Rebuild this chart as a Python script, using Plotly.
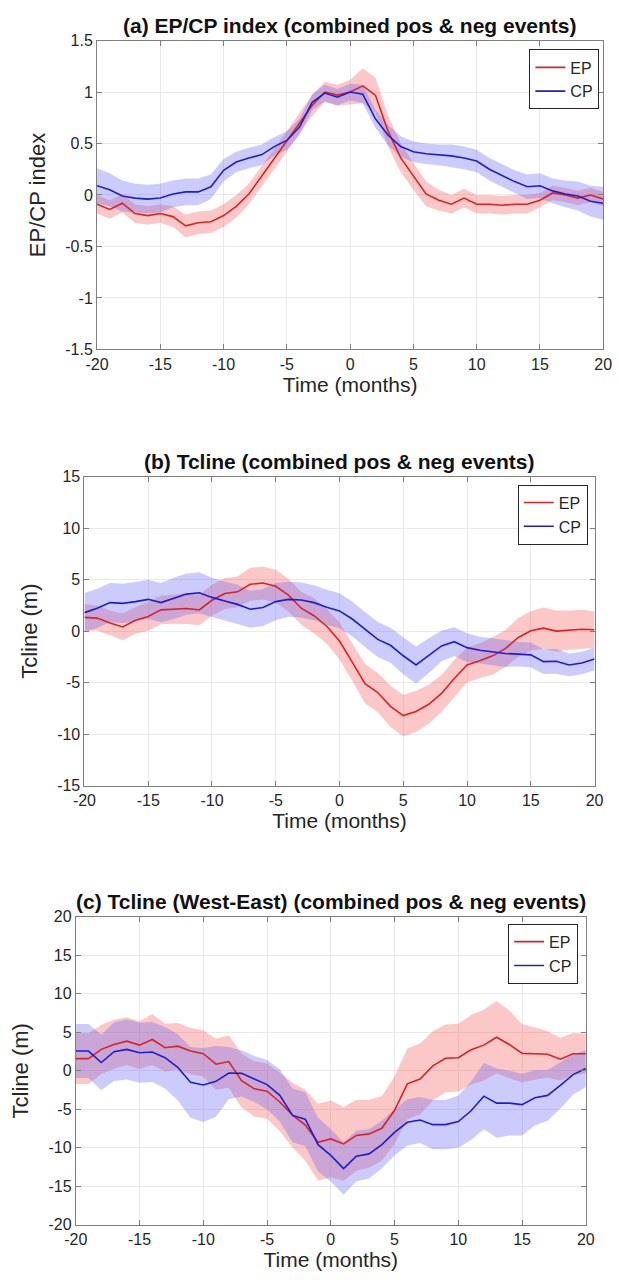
import plotly.graph_objects as go

months = list(range(-20, 21))
x_tickvals = [-20, -15, -10, -5, 0, 5, 10, 15, 20]
x_ticktext = ["-20", "-15", "-10", "-5", "0", "5", "10", "15", "20"]

# ---------- panel (a) EP/CP index ----------
a_ep = [-0.09, -0.14, -0.08, -0.18, -0.20, -0.18, -0.21, -0.30, -0.27, -0.26,
        -0.20, -0.11, 0.01, 0.18, 0.35, 0.52, 0.70, 0.87, 1.00, 0.97,
        1.00, 1.06, 0.97, 0.62, 0.36, 0.18, 0.01, -0.05, -0.09, -0.03,
        -0.09, -0.09, -0.10, -0.09, -0.09, -0.05, 0.02, 0.00, -0.03, 0.00, -0.04]
a_ep_err = [0.09, 0.09, 0.09, 0.09, 0.09, 0.09, 0.10, 0.11, 0.11, 0.11,
            0.11, 0.11, 0.10, 0.10, 0.10, 0.10, 0.10, 0.10, 0.10, 0.10,
            0.12, 0.17, 0.17, 0.15, 0.14, 0.13, 0.12, 0.10, 0.09, 0.09,
            0.09, 0.09, 0.09, 0.09, 0.09, 0.07, 0.07, 0.07, 0.07, 0.07, 0.07]
a_cp = [0.09, 0.05, -0.01, -0.03, -0.04, -0.03, 0.01, 0.03, 0.03, 0.08,
        0.24, 0.32, 0.36, 0.39, 0.47, 0.53, 0.66, 0.90, 0.99, 0.95,
        1.00, 0.98, 0.74, 0.58, 0.47, 0.42, 0.40, 0.39, 0.38, 0.36,
        0.33, 0.25, 0.19, 0.13, 0.08, 0.09, 0.04, 0.01, -0.01, -0.06, -0.08]
a_cp_err = [0.17, 0.16, 0.15, 0.14, 0.14, 0.14, 0.13, 0.13, 0.13, 0.12,
            0.11, 0.10, 0.10, 0.10, 0.09, 0.09, 0.08, 0.08, 0.08, 0.08,
            0.08, 0.09, 0.09, 0.10, 0.10, 0.10, 0.10, 0.10, 0.11, 0.11,
            0.11, 0.11, 0.11, 0.11, 0.12, 0.12, 0.12, 0.13, 0.14, 0.15, 0.16]
a_tickvals = [-1.5, -1, -0.5, 0, 0.5, 1, 1.5]
a_ticktext = ["-1.5", "-1", "-0.5", "0", "0.5", "1", "1.5"]

# ---------- panel (b) Tcline ----------
b_ep = [1.34, 1.27, 0.80, 0.41, 1.05, 1.43, 2.07, 2.13, 2.20, 2.07,
        3.00, 3.66, 3.82, 4.55, 4.68, 4.36, 3.50, 2.23, 1.50, 0.48,
        -0.96, -3.00, -5.10, -5.96, -7.30, -8.20, -7.80, -7.10, -6.05, -4.60,
        -3.28, -2.87, -2.40, -1.70, -0.64, 0.03, 0.29, 0.00, 0.10, 0.19, 0.13]
b_ep_err = [1.3, 1.2, 1.2, 1.3, 1.3, 1.4, 1.4, 1.4, 1.5, 1.5,
            1.5, 1.5, 1.5, 1.6, 1.6, 1.6, 1.6, 1.6, 1.7, 1.7,
            1.8, 1.8, 1.9, 1.9, 2.0, 2.0, 2.0, 1.9, 1.8, 1.8,
            1.7, 1.7, 1.8, 1.8, 1.9, 1.9, 2.0, 2.0, 1.9, 1.9, 1.8]
b_cp = [1.80, 2.23, 2.77, 2.70, 2.87, 3.09, 2.77, 3.18, 3.60, 3.73,
        3.28, 2.93, 2.60, 2.13, 2.30, 2.87, 3.09, 3.03, 2.77, 2.32,
        1.97, 1.18, 0.16, -0.80, -1.37, -2.39, -3.28, -2.39, -1.43, -1.02,
        -1.60, -1.85, -2.00, -2.17, -2.23, -2.30, -2.96, -2.93, -3.28, -3.09, -2.70]
b_cp_err = [1.9, 1.9, 1.9, 1.9, 1.9, 1.9, 1.9, 2.0, 2.0, 2.0,
            1.9, 1.9, 1.9, 1.8, 1.8, 1.8, 1.7, 1.7, 1.7, 1.7,
            1.7, 1.7, 1.7, 1.7, 1.7, 1.8, 1.8, 1.7, 1.5, 1.4,
            1.4, 1.3, 1.3, 1.3, 1.2, 1.2, 1.2, 1.2, 1.1, 1.1, 1.1]
b_tickvals = [-15, -10, -5, 0, 5, 10, 15]
b_ticktext = ["-15", "-10", "-5", "0", "5", "10", "15"]

# ---------- panel (c) Tcline West-East ----------
c_ep = [1.58, 1.58, 2.78, 3.42, 3.85, 3.33, 4.06, 3.00, 3.20, 2.56,
        2.22, 0.85, 1.20, -1.28, -2.35, -2.65, -4.06, -5.77, -7.05, -9.30,
        -8.85, -9.50, -8.40, -8.20, -7.48, -5.13, -1.70, -1.07, 0.64, 1.62,
        1.70, 2.73, 3.33, 4.36, 3.42, 2.26, 2.22, 2.14, 1.50, 2.22, 2.22]
c_ep_err = [3.3, 3.3, 3.2, 3.2, 3.1, 3.1, 3.3, 3.1, 3.0, 3.0,
            3.0, 3.3, 3.4, 3.5, 3.6, 3.6, 3.8, 4.2, 4.6, 5.0,
            5.0, 4.8, 4.6, 4.4, 4.2, 4.4, 4.6, 4.6, 4.5, 4.4,
            4.4, 4.5, 4.6, 4.7, 4.4, 3.8, 3.4, 3.0, 2.8, 2.7, 2.6]
c_cp = [2.56, 2.56, 1.07, 2.48, 2.78, 2.35, 2.44, 1.70, 0.43, -1.50,
        -1.84, -1.37, -0.30, -0.34, -1.07, -1.80, -3.20, -5.80, -6.30, -9.60,
        -11.00, -12.70, -11.10, -10.80, -9.60, -8.00, -6.70, -6.40, -7.00, -7.00,
        -6.60, -5.20, -3.30, -4.20, -4.20, -4.40, -3.50, -3.20, -1.90, -0.50, 0.30]
c_cp_err = [3.5, 3.5, 3.6, 3.8, 3.9, 3.9, 3.9, 4.0, 4.3, 4.6,
            4.8, 4.6, 3.4, 3.0, 3.0, 3.2, 3.4, 3.5, 3.5, 3.5,
            3.4, 3.4, 3.3, 3.2, 3.1, 3.0, 3.0, 3.0, 3.2, 3.2,
            3.4, 3.8, 4.3, 4.5, 4.2, 4.0, 3.6, 3.3, 3.0, 2.6, 2.4]
c_tickvals = [-20, -15, -10, -5, 0, 5, 10, 15, 20]
c_ticktext = ["-20", "-15", "-10", "-5", "0", "5", "10", "15", "20"]

series_names = ["EP", "CP"]
titles = ["(a) EP/CP index (combined pos & neg events)",
          "(b) Tcline (combined pos & neg events)",
          "(c) Tcline (West-East) (combined pos & neg events)"]
ytitles = ["EP/CP index", "Tcline (m)", "Tcline (m)"]
xtitle = "Time (months)"

# ---------- styling ----------
FONT = "Liberation Sans, Arial, Helvetica, sans-serif"
LINE_COLORS = ["rgb(218,35,35)", "rgb(30,30,205)"]
FILL_COLORS = ["rgba(245,80,80,0.32)", "rgba(95,95,245,0.32)"]
W, H = 619, 1286

panels = [
    dict(ep=a_ep, ep_err=a_ep_err, cp=a_cp, cp_err=a_cp_err,
         yr=[-1.5, 1.5], ytv=a_tickvals, ytt=a_ticktext,
         px=(88, 612), py=(33, 346), title_y=18, legend_right=608, legend_top=42),
    dict(ep=b_ep, ep_err=b_ep_err, cp=b_cp, cp_err=b_cp_err,
         yr=[-15, 15], ytv=b_tickvals, ytt=b_ticktext,
         px=(75, 603), py=(475, 788), title_y=460, legend_right=596, legend_top=483),
    dict(ep=c_ep, ep_err=c_ep_err, cp=c_cp, cp_err=c_cp_err,
         yr=[-20, 20], ytv=c_tickvals, ytt=c_ticktext,
         px=(66, 594), py=(921, 1233), title_y=905, legend_right=586, legend_top=928),
]

fig = go.Figure()
layout = dict(width=W, height=H, margin=dict(l=0, r=0, t=0, b=0),
              paper_bgcolor="white", plot_bgcolor="white",
              font=dict(family=FONT, color="#262626"), annotations=[])

for i, p in enumerate(panels):
    sfx = "" if i == 0 else str(i + 1)
    xa, ya = "x" + sfx, "y" + sfx
    leg = "legend" + sfx
    # shaded spread bands first
    for vals, errs, fc in [(p["ep"], p["ep_err"], FILL_COLORS[0]),
                           (p["cp"], p["cp_err"], FILL_COLORS[1])]:
        upper = [v + e for v, e in zip(vals, errs)]
        lower = [v - e for v, e in zip(vals, errs)]
        fig.add_trace(go.Scatter(x=months + months[::-1], y=upper + lower[::-1],
                                 fill="toself", fillcolor=fc, mode="none",
                                 line=dict(width=0), hoverinfo="skip",
                                 showlegend=False, xaxis=xa, yaxis=ya))
    for name, vals, lc in [(series_names[0], p["ep"], LINE_COLORS[0]),
                           (series_names[1], p["cp"], LINE_COLORS[1])]:
        fig.add_trace(go.Scatter(x=months, y=vals, mode="lines", name=name,
                                 line=dict(color=lc, width=1.6),
                                 xaxis=xa, yaxis=ya, legend=leg))
    axstyle = dict(showline=True, mirror="ticks", linecolor="#7f7f7f", linewidth=1,
                   ticks="inside", ticklen=5, tickcolor="#7f7f7f",
                   showgrid=True, gridcolor="#e9e9e9", gridwidth=1, zeroline=False,
                   tickfont=dict(size=16, family=FONT, color="#262626"))
    layout["xaxis" + sfx] = dict(axstyle, range=[-20, 20], tickvals=x_tickvals,
                                 ticktext=x_ticktext, anchor=ya,
                                 domain=[p["px"][0] / W, p["px"][1] / W],
                                 title=dict(text=xtitle, standoff=5,
                                            font=dict(size=21, family=FONT, color="#262626")))
    layout["yaxis" + sfx] = dict(axstyle, range=p["yr"], tickvals=p["ytv"],
                                 ticktext=p["ytt"], anchor=xa,
                                 domain=[1 - p["py"][1] / H, 1 - p["py"][0] / H],
                                 title=dict(text=ytitles[i], standoff=13,
                                            font=dict(size=22, family=FONT, color="#262626")))
    layout[leg] = dict(x=p["legend_right"] / W, y=1 - p["legend_top"] / H,
                       xanchor="right", yanchor="top", bgcolor="white",
                       bordercolor="#262626", borderwidth=1,
                       font=dict(size=16, family=FONT, color="#262626"),
                       tracegroupgap=0, itemwidth=30)
    layout["annotations"].append(dict(
        text="<b>" + titles[i] + "</b>", xref="paper", yref="paper",
        x=(p["px"][0] + p["px"][1]) / 2 / W, y=1 - p["title_y"] / H,
        xanchor="center", yanchor="middle", showarrow=False,
        font=dict(size=21, family=FONT, color="#111111")))

fig.update_layout(**layout)
fig.write_html("out.html")
